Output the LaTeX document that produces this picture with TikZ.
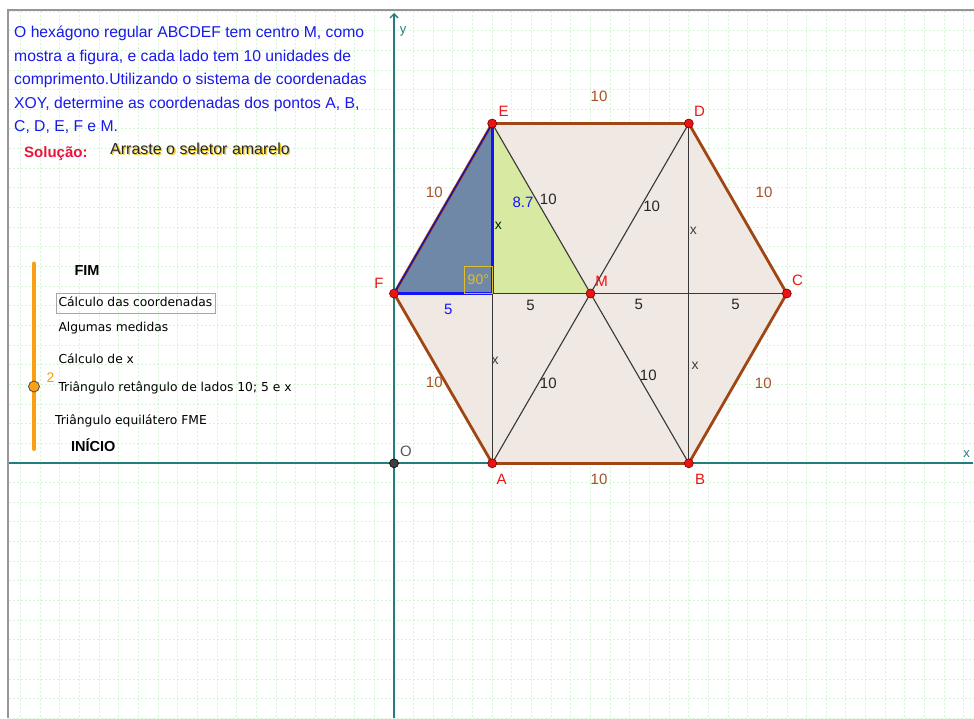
\documentclass[tikz,border=0pt]{standalone}
\usepackage{fontspec}
\setmainfont{Liberation Sans}
\newfontfamily\djv{DejaVu Sans}
\usetikzlibrary{arrows.meta}
\definecolor{gridc}{RGB}{212,246,212}
\definecolor{framec}{RGB}{150,150,150}
\definecolor{axisc}{RGB}{35,125,125}
\definecolor{hexfill}{RGB}{240,232,226}
\definecolor{hexedge}{RGB}{160,70,20}
\definecolor{brownlab}{RGB}{165,82,40}
\definecolor{triblue}{RGB}{112,136,168}
\definecolor{trigreen}{RGB}{216,234,162}
\definecolor{segblue}{RGB}{20,20,250}
\definecolor{txtblue}{RGB}{25,25,235}
\definecolor{ptred}{RGB}{235,20,20}
\definecolor{ptedge}{RGB}{120,0,0}
\definecolor{angyel}{RGB}{225,190,40}
\definecolor{sliderc}{RGB}{250,160,20}
\definecolor{solred}{RGB}{235,20,60}
\definecolor{glowyel}{RGB}{240,200,30}
\definecolor{darkline}{RGB}{55,55,55}
\begin{document}
\begin{tikzpicture}[x=1pt,y=-1pt,
  gridline/.style={gridc,line width=1pt,dash pattern=on 2pt off 2pt},
  axisline/.style={axisc,line width=1.4pt},
  hexside/.style={hexedge,line width=2.8pt,line cap=round},
  thinline/.style={darkline,line width=1.1pt},
  blueseg/.style={segblue,line width=2.8pt},
  ptdot/.style={circle,fill=ptred,draw=ptedge,line width=0.6pt,inner sep=0pt,minimum size=9pt},
  ptlab/.style={text=ptred,font=\fontsize{15}{15}\selectfont,inner sep=0pt},
  blab/.style={text=brownlab,font=\fontsize{15}{15}\selectfont,inner sep=0pt},
  klab/.style={text=black!85,font=\fontsize{15}{15}\selectfont,inner sep=0pt},
  xlab/.style={text=black!75,font=\fontsize{14}{14}\selectfont,inner sep=0pt},
  qtext/.style={text=txtblue,font=\fontsize{15.7}{18}\selectfont,anchor=base west,inner sep=0pt},
  slab/.style={font=\djv\fontsize{12.3}{14}\selectfont,anchor=base west,inner sep=0pt},
  sbold/.style={font=\bfseries\fontsize{14.5}{16}\selectfont,anchor=base west,inner sep=0pt},
]
\useasboundingbox (0,0) rectangle (974,718);
\fill[white] (0,0) rectangle (974,718);
% grid
\begin{scope}
\clip (9,11) rectangle (974,718);
\foreach \i in {-20,...,30} \draw[gridline] ({394+19.65*\i},11) -- ({394+19.65*\i},718);
\foreach \j in {-24,...,14} \draw[gridline] (9,{463+19.65*\j}) -- (974,{463+19.65*\j});
\end{scope}
% frame
\draw[framec,line width=2pt] (8,718) -- (8,10) -- (974,10);
% axes
\coordinate (ybot) at (394,718);
\coordinate (ytop) at (394,13);
\coordinate (xleft) at (9,463);
\coordinate (xright) at (973,463);
\draw[axisline,-{Straight Barb[length=4pt,width=8pt]}] (ybot) -- (ytop);
\draw[axisline] (xleft) -- (xright);
\node[text=axisc,font=\fontsize{13}{13}\selectfont,inner sep=0pt] (ylab) at (403,31) {y};
\node[text=axisc,font=\fontsize{13}{13}\selectfont,inner sep=0pt] (xlabel) at (966.5,454) {x};
% points
\coordinate (O) at (394,463.3);
\coordinate (A) at (492.2,463.3);
\coordinate (B) at (688.8,463.3);
\coordinate (C) at (786.8,293.5);
\coordinate (D) at (688.8,123.5);
\coordinate (E) at (492.2,123.5);
\coordinate (F) at (394,293.5);
\coordinate (M) at (590.5,293.5);
\coordinate (H) at (492.2,293.5);
% fills
\fill[hexfill] (A) -- (B) -- (C) -- (D) -- (E) -- (F) -- cycle;
\fill[triblue] (F) -- (E) -- (H) -- cycle;
\fill[trigreen] (E) -- (H) -- (M) -- cycle;
% thin lines
\draw[thinline] (H) -- (C);
\draw[thinline] (E) -- (A);
\draw[thinline] (D) -- (B);
\draw[thinline] (E) -- (B);
\draw[thinline] (D) -- (A);
% hexagon sides
\draw[hexside] (A) -- (B);
\draw[hexside] (B) -- (C);
\draw[hexside] (C) -- (D);
\draw[hexside] (D) -- (E);
\draw[hexside] (A) -- (F);
\draw[hexside] (F) -- (E);
\draw[segblue!75!black,line width=1.3pt] (F) -- (E);
% blue segments
\draw[blueseg] (F) -- (H);
\draw[blueseg] (H) -- (E);
% right angle
\coordinate (RA1) at (464.3,266.2);
\draw[angyel,line width=1.1pt] (RA1) rectangle (H);
\node[text=angyel,font=\fontsize{14}{14}\selectfont,inner sep=0pt] (ang) at (478.3,279.6) {90°};
% labels on sides
\node[blab] (lED) at (599,96) {10};
\node[blab] (lFE) at (434.3,192.7) {10};
\node[blab] (lDC) at (764,192.7) {10};
\node[blab] (lFA) at (434.3,382.7) {10};
\node[blab] (lCB) at (763.3,383.3) {10};
\node[blab] (lAB) at (599,479) {10};
\node[text=segblue,font=\fontsize{15}{15}\selectfont,inner sep=0pt] (l87) at (523,202.7) {8.7};
\node[klab] (lEM) at (548.3,199.3) {10};
\node[klab] (lDM) at (651.7,206.7) {10};
\node[klab] (lAM) at (548.3,383.3) {10};
\node[klab] (lBM) at (648.3,375.7) {10};
\node[xlab,text=black!65!green!40!black] (x1) at (498.3,226) {x};
\node[xlab] (x2) at (693.3,230.7) {x};
\node[xlab] (x3) at (495,360.7) {x};
\node[xlab] (x4) at (695,366) {x};
\node[text=segblue,font=\fontsize{15}{15}\selectfont,inner sep=0pt] (l5a) at (448.3,309) {5};
\node[klab] (l5b) at (530.5,305) {5};
\node[klab] (l5c) at (638.8,304.5) {5};
\node[klab] (l5d) at (735.5,304.5) {5};
% point dots
\node[ptdot] (pA) at (A) {};
\node[ptdot] (pB) at (B) {};
\node[ptdot] (pC) at (C) {};
\node[ptdot] (pD) at (D) {};
\node[ptdot] (pE) at (E) {};
\node[ptdot] (pF) at (F) {};
\node[ptdot] (pM) at (M) {};
\node[circle,fill=black!75,draw=black,line width=0.6pt,inner sep=0pt,minimum size=9pt] (pO) at (O) {};
\node[ptlab] (tA) at (501.7,479.3) {A};
\node[ptlab] (tB) at (700,479) {B};
\node[ptlab] (tC) at (797.5,280.5) {C};
\node[ptlab] (tD) at (699.5,111.5) {D};
\node[ptlab] (tE) at (503.5,111.5) {E};
\node[ptlab] (tF) at (379,283) {F};
\node[ptlab] (tM) at (601.5,281.5) {M};
\node[text=black!65,font=\fontsize{15}{15}\selectfont,inner sep=0pt] (tO) at (406,451) {O};
% question text
\node[qtext] (q1) at (14,37.5) {O hexágono regular ABCDEF tem centro M, como};
\node[qtext] (q2) at (14,61) {mostra a figura, e cada lado tem 10 unidades de};
\node[qtext] (q3) at (14,84.5) {comprimento.Utilizando o sistema de coordenadas};
\node[qtext] (q4) at (14,108) {XOY, determine as coordenadas dos pontos A, B,};
\node[qtext] (q5) at (14,131.5) {C, D, E, F e M.};
\node[anchor=base west,inner sep=0pt,text=solred,font=\bfseries\fontsize{15}{15}\selectfont] (sol) at (24,157) {Solução:};
\node[anchor=base west,inner sep=0pt,text=glowyel,font=\fontsize{16}{16}\selectfont] (arrglow) at (111.3,155.3) {Arraste o seletor amarelo};
\node[anchor=base west,inner sep=0pt,text=black!85,font=\fontsize{16}{16}\selectfont] (arr) at (110,154) {Arraste o seletor amarelo};
% slider
\coordinate (stop) at (34,263.5);
\coordinate (sbot) at (34,449);
\draw[sliderc,line width=4pt,line cap=round] (stop) -- (sbot);
\node[circle,fill=sliderc,draw=black!70,line width=0.8pt,inner sep=0pt,minimum size=11pt] (knob) at (34,386.5) {};
\node[text=sliderc,font=\fontsize{14}{14}\selectfont,inner sep=0pt,anchor=base west] (two) at (46.5,382) {2};
\node[sbold] (fim) at (74.3,275) {FIM};
\node[slab] (s1) at (58.3,306.7) {Cálculo das coordenadas};
\coordinate (bx1) at (56.5,293.3);
\coordinate (bx2) at (215,313.3);
\draw[black!35,line width=0.8pt] (bx1) rectangle (bx2);
\node[slab] (s2) at (58.3,331.7) {Algumas medidas};
\node[slab] (s3) at (58.3,363.3) {Cálculo de x};
\node[slab] (s4) at (58.3,391.7) {Triângulo retângulo de lados 10; 5 e x};
\node[slab] (s5) at (55,424.3) {Triângulo equilátero FME};
\node[sbold] (ini) at (71,451) {INÍCIO};
\end{tikzpicture}
\end{document}
